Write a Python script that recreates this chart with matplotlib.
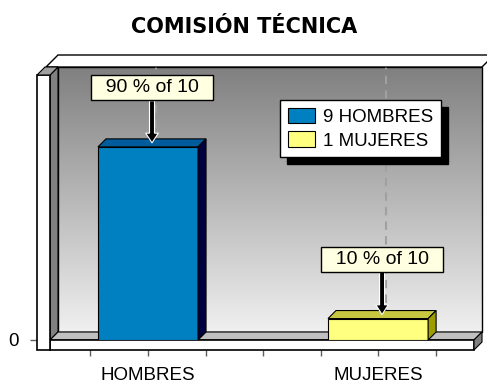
import numpy as np
import matplotlib
matplotlib.use("Agg")
import matplotlib.pyplot as plt
from matplotlib.patches import Polygon, Rectangle
from matplotlib.colors import LinearSegmentedColormap

categories = ["HOMBRES", "MUJERES"]
values = [9, 1]
title = "COMISIÓN TÉCNICA"
front_colors = ["#0080C0", "#FFFF80"]
top_colors = ["#005C9C", "#C8C840"]
side_colors = ["#000040", "#9C9C00"]

plt.rcParams['font.family'] = ['Liberation Sans', 'DejaVu Sans']

W, H = 487, 387
fig = plt.figure(figsize=(W / 100, H / 100), dpi=100)
fig.patch.set_facecolor("white")

# front plane of the 3D box, in pixels
L, R, B, T = 50, 474, 340, 75
ax = fig.add_axes([L / W, (H - B) / H, (R - L) / W, (B - T) / H])
ax.patch.set_visible(False)
xmin, xmax = -0.426, 1.417
ymax = 12.35
depth_px = 8
dx = (xmax - xmin) * depth_px / (R - L)
dy = ymax * depth_px / (B - T)
px_x = (xmax - xmin) / (R - L)
px_y = ymax / (B - T)

# back wall gradient
grad = np.linspace(0, 1, 256).reshape(-1, 1)
cmap = LinearSegmentedColormap.from_list("wall", ["#F0F0F0", "#808080"])
ax.imshow(grad, extent=[xmin + dx, xmax + dx, dy, ymax + dy], cmap=cmap,
          origin="lower", aspect="auto", zorder=1, clip_on=False)
ax.add_patch(Rectangle((xmin + dx, dy), xmax - xmin, ymax, fill=False,
                       ec="black", lw=1, zorder=1.5, clip_on=False))

# gridlines on back wall
for i in range(len(values)):
    ax.plot([i + dx, i + dx], [dy, ymax + dy], ls=(0, (4, 3)), color="#A0A0A0",
            lw=1.5, zorder=2, clip_on=False)

# top slab
ax.add_patch(Polygon([(xmin - 0.5 * dx, ymax + dy), (xmax + dx, ymax + dy),
                      (xmax + 2.5 * dx, ymax + 2.5 * dy), (xmin + dx, ymax + 2.5 * dy)],
                     closed=True, fc="white", ec="black", lw=1, zorder=2, clip_on=False))

# left wall inner side
ax.add_patch(Polygon([(xmin, 0), (xmin + dx, dy), (xmin + dx, ymax + dy), (xmin, ymax)],
                     closed=True, fc="#808080", ec="black", lw=0.8, zorder=2, clip_on=False))

# floor top face
ax.add_patch(Polygon([(xmin, 0), (xmax, 0), (xmax + dx, dy), (xmin + dx, dy)],
                     closed=True, fc="#C0C0C0", ec="black", lw=0.8, zorder=3, clip_on=False))
# floor front
fh = 10 * px_y
ax.add_patch(Rectangle((xmin, -fh), xmax - xmin, fh, fc="white", ec="black", lw=1.2,
                       zorder=3, clip_on=False))
# floor right side
ax.add_patch(Polygon([(xmax, 0), (xmax + dx, dy), (xmax + dx, dy - fh), (xmax, -fh)],
                     closed=True, fc="#808080", ec="black", lw=0.8, zorder=3, clip_on=False))

# left wall front + top
lw_w = 13 * px_x
ax.add_patch(Rectangle((xmin - lw_w, -fh), lw_w, ymax + fh, fc="white", ec="black", lw=1.2,
                       zorder=4, clip_on=False))
ax.add_patch(Polygon([(xmin - lw_w, ymax), (xmin, ymax), (xmin + dx, ymax + dy),
                      (xmin - lw_w + dx, ymax + dy)],
                     closed=True, fc="#A0A0A0", ec="black", lw=0.8, zorder=4, clip_on=False))

# bars
x = np.arange(len(values))
w = 0.435
bars = ax.bar(x, values, width=w, color=front_colors, edgecolor="black", linewidth=0.8,
              zorder=5)
for i, v in enumerate(values):
    ax.add_patch(Polygon([(i - w / 2, v), (i + w / 2, v), (i + w / 2 + dx, v + dy),
                          (i - w / 2 + dx, v + dy)], closed=True, fc=top_colors[i],
                         ec="black", lw=0.8, zorder=5, clip_on=False))
    ax.add_patch(Polygon([(i + w / 2, 0), (i + w / 2 + dx, dy), (i + w / 2 + dx, v + dy),
                          (i + w / 2, v)], closed=True, fc=side_colors[i],
                         ec="black", lw=0.8, zorder=5, clip_on=False))

# annotations
total = sum(values)
for i, v in enumerate(values):
    pct = round(100 * v / total)
    ax.annotate(f"  {pct} % of {total}  ", xy=(i + dx / 2, v + dy / 2), xytext=(0, 55),
                textcoords="offset pixels", ha="center", va="center", fontsize=14,
                bbox=dict(boxstyle="square,pad=0.2", fc="#FFFFE1", ec="black", lw=1),
                arrowprops=dict(facecolor="black", edgecolor="white", lw=0.8, width=3.6,
                                headwidth=9, headlength=7, shrink=0),
                zorder=7, annotation_clip=False)

ax.set_xlim(xmin, xmax)
ax.set_ylim(0, ymax)

# axes ticks
for s in ax.spines.values():
    s.set_visible(False)
ax.spines["bottom"].set_position(("outward", 7.2))
ax.spines["left"].set_position(("outward", 9.4))
ax.set_xticks(x, categories)
ax.set_xticks(np.arange(-0.25, 1.26, 0.25), minor=True)
ax.tick_params(axis="x", which="both", direction="out", length=4.5, width=1,
               color="#606060", labelsize=13.5, pad=8.0)
ax.set_yticks([0])
ax.tick_params(axis="y", direction="out", length=5, width=1, color="#606060",
               labelsize=13.5, pad=8)

# legend
leg = fig.legend(handles=bars.patches, labels=[f"{v} {c}" for v, c in zip(values, categories)],
                 loc="upper left", bbox_to_anchor=(280 / W, 1 - 100 / H),
                 bbox_transform=fig.transFigure, frameon=True, fancybox=False,
                 shadow={"ox": 5, "oy": -5, "color": "black", "alpha": 1},
                 edgecolor="black", facecolor="white", framealpha=1, fontsize=13.5,
                 borderpad=0.4, labelspacing=0.3, handlelength=1.45, handleheight=0.9,
                 handletextpad=0.45, borderaxespad=0)
leg.get_frame().set_linewidth(1)

fig.text(244 / W, 1 - 27 / H, title, ha="center", va="center", fontsize=15,
         fontweight="bold", family="DejaVu Sans")

fig.savefig("out.png", dpi=100)
